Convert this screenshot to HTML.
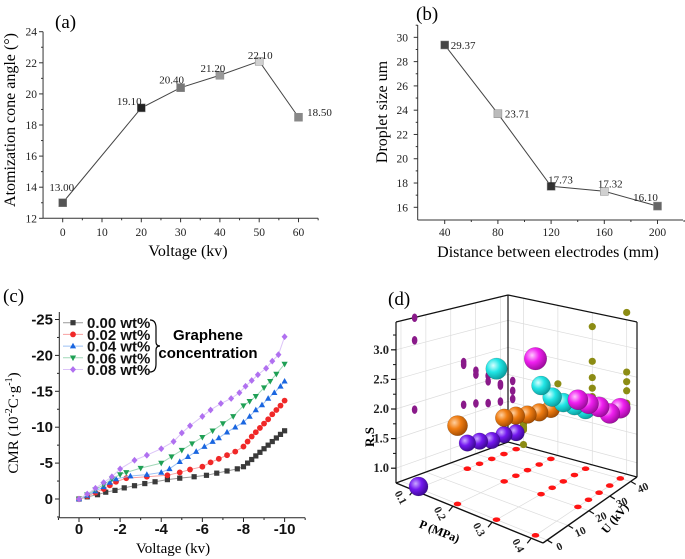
<!DOCTYPE html>
<html><head><meta charset="utf-8"><style>
html,body{margin:0;padding:0;background:#fff;}
svg{display:block;}
.serif{font-family:"Liberation Serif",serif;}
.sans{font-family:"Liberation Sans",sans-serif;}
</style></head><body>
<svg id="chart" width="685" height="559" viewBox="0 0 685 559" xmlns="http://www.w3.org/2000/svg">
<rect x="0" y="0" width="685" height="559" fill="#fff"/>
<defs>
<radialGradient id="gViolet" cx="35%" cy="35%" r="70%"><stop offset="0" stop-color="#c9a8ff"/><stop offset="0.45" stop-color="#7418f0"/><stop offset="1" stop-color="#3a0890"/></radialGradient>
<radialGradient id="gOrange" cx="35%" cy="35%" r="70%"><stop offset="0" stop-color="#ffd0a0"/><stop offset="0.45" stop-color="#f07d12"/><stop offset="1" stop-color="#a04a00"/></radialGradient>
<radialGradient id="gCyan" cx="35%" cy="35%" r="70%"><stop offset="0" stop-color="#d8ffff"/><stop offset="0.45" stop-color="#22e6e6"/><stop offset="1" stop-color="#0a9a9a"/></radialGradient>
<radialGradient id="gMagenta" cx="35%" cy="35%" r="70%"><stop offset="0" stop-color="#ffc8ff"/><stop offset="0.45" stop-color="#f020f0"/><stop offset="1" stop-color="#9a0a9a"/></radialGradient>
</defs>
<text x="55" y="28" class="serif" font-size="19">(a)</text>
<text transform="translate(15,120) rotate(-90)" text-anchor="middle" class="serif" font-size="16">Atomization cone angle (°)</text>
<text x="188" y="256" text-anchor="middle" class="serif" font-size="16">Voltage  (kv)</text>

<text x="416" y="20" class="serif" font-size="19">(b)</text>
<text transform="translate(387,112) rotate(-90)" text-anchor="middle" class="serif" font-size="16">Droplet size um</text>
<text x="548" y="257" text-anchor="middle" class="serif" font-size="16">Distance between electrodes  (mm)</text>

<text x="3" y="302" class="serif" font-size="19">(c)</text>
<text transform="translate(18,423) rotate(-90)" text-anchor="middle" class="serif" font-size="15">CMR (10<tspan font-size="10" dy="-6">-2</tspan><tspan dy="6">C·g</tspan><tspan font-size="10" dy="-6">-1</tspan><tspan dy="6">)</tspan></text>
<text x="173" y="553" text-anchor="middle" class="serif" font-size="15">Voltage (kv)</text>
<text x="208" y="340" text-anchor="middle" class="sans" font-weight="bold" font-size="15">Graphene</text>
<text x="208" y="358" text-anchor="middle" class="sans" font-weight="bold" font-size="15">concentration</text>
<path d="M150,320 Q156,320 156,328 L156,342 Q156,346 160,346 Q156,346 156,350 L156,364 Q156,372 150,372" fill="none" stroke="#000" stroke-width="1.2"/>

<text x="388" y="305" class="serif" font-size="19">(d)</text>
<text transform="translate(374,437) rotate(-90)" text-anchor="middle" class="serif" font-weight="bold" font-size="13">R.S</text>
<text transform="translate(438,535) rotate(22)" text-anchor="middle" class="serif" font-weight="bold" font-size="12">P (MPa)</text>
<text transform="translate(618,521) rotate(-50)" text-anchor="middle" class="serif" font-weight="bold" font-size="12">U (kV)</text>

<g id="layer"></g>
</svg>
<script>
// ---------- Panel (a) data ----------
const aVolt=[0,20,30,40,50,60];
const aAngle=[13.00,19.10,20.40,21.20,22.10,18.50];
const aValueLabels=['13.00','19.10','20.40','21.20','22.10','18.50'];
const aXTicks=[0,10,20,30,40,50,60];
const aYTicks=[12,14,16,18,20,22,24];
// ---------- Panel (b) data ----------
const bDist=[40,80,120,160,200];
const bSize=[29.37,23.71,17.73,17.32,16.10];
const bValueLabels=['29.37','23.71','17.73','17.32','16.10'];
const bXTicks=[40,80,120,160,200];
const bYTicks=[16,18,20,22,24,26,28,30];
// ---------- Panel (c) data ----------
const cSeriesNames=['0.00 wt%','0.02 wt%','0.04 wt%','0.06 wt%','0.08 wt%'];
const cX0=[0,-0.4,-0.9,-1.3,-1.75,-2.2,-2.7,-3.2,-3.7,-4.3,-4.9,-5.6,-6.2,-6.7,-7.2,-7.7,-8,-8.2,-8.4,-8.6,-8.8,-9,-9.2,-9.4,-9.6,-9.8,-10];
const cY0=[0,-0.3,-0.6,-0.95,-1.2,-1.55,-1.85,-2.15,-2.4,-2.7,-2.9,-3.1,-3.3,-3.6,-3.9,-4.2,-4.5,-5.0,-5.5,-6.0,-6.5,-7.0,-7.5,-8.0,-8.5,-9.0,-9.5];
const cX1=[0,-0.4,-0.8,-1.2,-1.5,-1.8,-2.3,-3.3,-4.3,-4.9,-5.4,-6,-6.4,-6.8,-7.2,-7.6,-8,-8.2,-8.4,-8.6,-8.8,-9,-9.2,-9.4,-9.6,-9.8,-10];
const cY1=[0,-0.4,-0.9,-1.4,-1.9,-2.4,-2.9,-3.1,-3.3,-3.7,-4.1,-4.5,-5.1,-5.6,-6.1,-6.6,-7.3,-8.0,-8.7,-9.3,-9.9,-10.5,-11.1,-11.8,-12.4,-13.0,-13.7];
const cX2=[0,-0.4,-0.8,-1.2,-1.5,-1.8,-2.5,-3.3,-4,-4.4,-4.9,-5.3,-5.7,-6.1,-6.5,-6.8,-7.2,-7.6,-8,-8.3,-8.6,-8.9,-9.2,-9.5,-9.8,-10];
const cY2=[0,-0.5,-1.1,-1.7,-2.3,-2.8,-3.2,-3.4,-3.7,-4.2,-5.2,-5.9,-6.6,-7.3,-8.0,-8.5,-9.3,-10,-10.7,-11.5,-12.4,-13.1,-14,-14.8,-15.7,-16.4];
const cX3=[0,-0.4,-0.8,-1.2,-1.6,-2,-2.3,-3,-4,-4.5,-5,-5.5,-6,-6.5,-7,-7.5,-8,-8.3,-8.6,-9,-9.3,-9.6,-10];
const cY3=[0,-0.6,-1.3,-2.0,-2.8,-3.4,-3.7,-4.3,-5.0,-5.9,-6.8,-7.7,-8.6,-9.5,-10.5,-11.5,-13,-13.6,-14.3,-15.5,-16.4,-17.4,-18.8];
const cX4=[0,-0.4,-0.8,-1.2,-1.6,-2,-2.7,-3.3,-4,-4.6,-5,-5.4,-6,-6.4,-6.9,-7.4,-7.8,-8.1,-8.4,-8.7,-9.1,-9.4,-9.7,-10];
const cY4=[0,-0.7,-1.5,-2.3,-3.1,-4.2,-5.4,-6.1,-7.0,-8.0,-9.2,-10.2,-11.5,-12.4,-13.3,-14.0,-14.8,-15.7,-16.5,-17.3,-18.2,-19.2,-20.1,-22.6];
const cXTicks=[0,-2,-4,-6,-8,-10];
const cYTicks=[0,-5,-10,-15,-20,-25];
// ---------- Panel (d) data ----------
const dP=[0.1,0.2,0.3,0.4];
const dU=[0,20,25,30,35,40];
const dRS0=[0.78,1.20,1.15,1.08,1.10,1.05];
const dRS1=[2.05,1.85,1.80,1.73,1.68,1.65];
const dRS2=[3.22,2.60,2.31,2.12,1.97,1.80];
const dRS3=[3.60,2.55,2.38,2.22,2.00,1.98];
const dPTicks=[0.1,0.2,0.3,0.4];
const dUTicks=[0,10,20,30,40];
const dRTicks=[1.0,1.5,2.0,2.5,3.0];
const dRTickLabels=['1.0','1.5','2.0','2.5','3.0'];

const NS='http://www.w3.org/2000/svg';
const layer=document.getElementById('layer');
function el(tag,attrs,parent){const e=document.createElementNS(NS,tag);for(const k in attrs)e.setAttribute(k,attrs[k]);(parent||layer).appendChild(e);return e;}
function nm(e,n){


return e;}
function txt(x,y,s,attrs){const t=el('text',Object.assign({x:x,y:y},attrs));t.textContent=s;return t;}

// ---------- Panel (a) ----------
const xa=v=>62.7+v*3.93;
const ya=v=>218.3-(v-12)*15.55;
(function(){
  const g=el('g',{});nm(g,'panel-a');
  let s=el('line',{x1:xa(-5),y1:ya(12),x2:xa(65),y2:ya(12),stroke:'#333','stroke-width':1},g);nm(s,'panel-a-x-axis');
  s=el('line',{x1:xa(-5),y1:ya(12),x2:xa(-5),y2:ya(24),stroke:'#333','stroke-width':1},g);nm(s,'panel-a-y-axis');
  aXTicks.forEach(v=>{let t=el('line',{x1:xa(v),y1:ya(12),x2:xa(v),y2:ya(12)+4,stroke:'#333'},g);nm(t,'panel-a-x-tick');
    let m=el('line',{x1:xa(v+5),y1:ya(12),x2:xa(v+5),y2:ya(12)+2,stroke:'#333'},g);nm(m,'panel-a-x-minor-tick');
    let l=txt(xa(v),236,String(v),{'text-anchor':'middle','font-size':11.5,class:'serif',fill:'#222'});g.appendChild(l);nm(l,'panel-a-x-tick-label');});
  aYTicks.forEach(v=>{let t=el('line',{x1:xa(-5)-4,y1:ya(v),x2:xa(-5),y2:ya(v),stroke:'#333'},g);nm(t,'panel-a-y-tick');
    if(v<24){let m=el('line',{x1:xa(-5)-2,y1:ya(v+1),x2:xa(-5),y2:ya(v+1),stroke:'#333'},g);nm(m,'panel-a-y-minor-tick');}
    let l=txt(37,ya(v)+4,String(v),{'text-anchor':'end','font-size':11.5,class:'serif',fill:'#222'});g.appendChild(l);nm(l,'panel-a-y-tick-label');});
  const pts=aVolt.map((v,i)=>xa(v)+','+ya(aAngle[i])).join(' ');
  const pl=el('polyline',{points:pts,fill:'none',stroke:'#444','stroke-width':1},g);nm(pl,'panel-a-line');
  const fills=['#555','#222','#777','#999','#d0d0d0','#888'];
  const ldx=[-1,-12,-9,-7,1,21], ldy=[-12,-3,-4,-3,-2,-1];
  aVolt.forEach((v,i)=>{const r=el('rect',{x:xa(v)-4,y:ya(aAngle[i])-4,width:8,height:8,fill:fills[i],stroke:'#888','stroke-width':0.5},g);nm(r,'panel-a-point');
    const l=txt(xa(v)+ldx[i],ya(aAngle[i])+ldy[i],aValueLabels[i],{'text-anchor':'middle','font-size':11,class:'serif',fill:'#222'});g.appendChild(l);nm(l,'panel-a-value-label');});
})();

// ---------- Panel (b) ----------
const xb=v=>444.7+(v-40)*1.33;
const yb=v=>207.3-(v-16)*12.14;
(function(){
  const g=el('g',{});nm(g,'panel-b');
  let s=el('line',{x1:417.7,y1:220,x2:683,y2:220,stroke:'#333'},g);nm(s,'panel-b-x-axis');
  s=el('line',{x1:417.7,y1:220,x2:417.7,y2:25,stroke:'#333'},g);nm(s,'panel-b-y-axis');
  bXTicks.forEach(v=>{let t=el('line',{x1:xb(v),y1:220,x2:xb(v),y2:224,stroke:'#333'},g);nm(t,'panel-b-x-tick');
    let m=el('line',{x1:xb(v+20),y1:220,x2:xb(v+20),y2:222,stroke:'#333'},g);nm(m,'panel-b-x-minor-tick');
    let l=txt(xb(v),236,String(v),{'text-anchor':'middle','font-size':11.5,class:'serif',fill:'#222'});g.appendChild(l);nm(l,'panel-b-x-tick-label');});
  bYTicks.forEach(v=>{let t=el('line',{x1:413.7,y1:yb(v),x2:417.7,y2:yb(v),stroke:'#333'},g);nm(t,'panel-b-y-tick');
    let m=el('line',{x1:415.7,y1:yb(v+1),x2:417.7,y2:yb(v+1),stroke:'#333'},g);nm(m,'panel-b-y-minor-tick');
    let l=txt(408,yb(v)+4,String(v),{'text-anchor':'end','font-size':11.5,class:'serif',fill:'#222'});g.appendChild(l);nm(l,'panel-b-y-tick-label');});
  const pts=bDist.map((v,i)=>xb(v)+','+yb(bSize[i])).join(' ');
  const pl=el('polyline',{points:pts,fill:'none',stroke:'#444','stroke-width':1},g);nm(pl,'panel-b-line');
  const fills=['#444','#bbb','#333','#d0d0d0','#666'];
  const ldx=[6,7,-3,6,-12], ldy=[4,4,-3,-4,-5], anc=['start','start','start','middle','middle'];
  bDist.forEach((v,i)=>{const r=el('rect',{x:xb(v)-4,y:yb(bSize[i])-4,width:8,height:8,fill:fills[i],stroke:'#888','stroke-width':0.5},g);nm(r,'panel-b-point');
    const l=txt(xb(v)+ldx[i],yb(bSize[i])+ldy[i],bValueLabels[i],{'text-anchor':anc[i],'font-size':11,class:'serif',fill:'#222'});g.appendChild(l);nm(l,'panel-b-value-label');});
})();

// ---------- Panel (c) ----------
const xc=v=>79-v*20.56;
const yc=v=>499+v*7.18;
function marker(g,shape,x,y,color){
  let m;
  if(shape==='sq') m=el('rect',{x:x-2.6,y:y-2.6,width:5.2,height:5.2,fill:color},g);
  else if(shape==='ci') m=el('circle',{cx:x,cy:y,r:2.9,fill:color},g);
  else if(shape==='tu') m=el('polygon',{points:`${x},${y-3.3} ${x+3.1},${y+2.3} ${x-3.1},${y+2.3}`,fill:color},g);
  else if(shape==='td') m=el('polygon',{points:`${x},${y+3.3} ${x+3.1},${y-2.3} ${x-3.1},${y-2.3}`,fill:color},g);
  else m=el('polygon',{points:`${x},${y-3.4} ${x+3},${y} ${x},${y+3.4} ${x-3},${y}`,fill:color},g);
  return m;
}
(function(){
  const g=el('g',{});nm(g,'panel-c');
  let s=el('line',{x1:59.3,y1:517.7,x2:305,y2:517.7,stroke:'#222'},g);nm(s,'panel-c-x-axis');
  s=el('line',{x1:59.3,y1:517.7,x2:59.3,y2:312,stroke:'#222'},g);nm(s,'panel-c-y-axis');
  cXTicks.forEach(v=>{let t=el('line',{x1:xc(v),y1:517.7,x2:xc(v),y2:522,stroke:'#222'},g);nm(t,'panel-c-x-tick');
    let m=el('line',{x1:xc(v-1),y1:517.7,x2:xc(v-1),y2:520,stroke:'#222'},g);nm(m,'panel-c-x-minor-tick');
    let l=txt(xc(v),534,String(v),{'text-anchor':'middle','font-size':15,'font-weight':'bold',class:'sans',fill:'#111'});g.appendChild(l);nm(l,'panel-c-x-tick-label');});
  let m0=el('line',{x1:xc(1),y1:517.7,x2:xc(1),y2:520,stroke:'#222'},g);nm(m0,'panel-c-x-minor-tick');
  cYTicks.forEach(v=>{let t=el('line',{x1:55,y1:yc(v),x2:59.3,y2:yc(v),stroke:'#222'},g);nm(t,'panel-c-y-tick');
    let m=el('line',{x1:57,y1:yc(v+2.5),x2:59.3,y2:yc(v+2.5),stroke:'#222'},g);nm(m,'panel-c-y-minor-tick');
    let l=txt(53,yc(v)+5,String(v),{'text-anchor':'end','font-size':15,'font-weight':'bold',class:'sans',fill:'#111'});g.appendChild(l);nm(l,'panel-c-y-tick-label');});
  const xs=[cX0,cX1,cX2,cX3,cX4], ys=[cY0,cY1,cY2,cY3,cY4];
  const cols=['#3a3a3a','#f02828','#1a66e0','#1fa055','#b070f0'];
  const lcols=['#999','#f8a0a0','#9cc0f4','#a0d8b8','#dcc4f8'];
  const shapes=['sq','ci','tu','td','di'];
  xs.forEach((X,k)=>{
    const sg=el('g',{},g);nm(sg,'panel-c-series-'+k);
    const pl=el('polyline',{points:X.map((v,i)=>xc(v)+','+yc(ys[k][i])).join(' '),fill:'none',stroke:lcols[k],'stroke-width':1},sg);nm(pl,'panel-c-series-line');
    X.forEach((v,i)=>{const m=marker(sg,shapes[k],xc(v),yc(ys[k][i]),cols[k]);nm(m,'panel-c-point');});
  });
  cSeriesNames.forEach((n,k)=>{
    const y=322.7+k*11.7;
    const lg=el('g',{},g);nm(lg,'legend-entry');
    const ln=el('line',{x1:63,y1:y,x2:83,y2:y,stroke:lcols[k]},lg);nm(ln,'legend-line');
    const mk=marker(lg,shapes[k],73,y,cols[k]);nm(mk,'legend-marker');
    const t=txt(87,y+5.5,n,{'font-size':15,'font-weight':'bold',class:'sans',fill:'#111'});lg.appendChild(t);nm(t,'legend-label');
  });
})();

// ---------- Panel (d) 3D ----------
const Pmin=0.055,Pmax=0.43,Umin=-2,Umax=43,Rmin=0.75,Rmax=3.47;
const CL=[396,483],CB=[508,442],CF=[543,543],CR=[637,477];
const HL=161,HB=147,HF=170,HR=155;
function proj(P,U,R){
  const p=(P-Pmin)/(Pmax-Pmin), u=(U-Umin)/(Umax-Umin);
  const a=[CL[0]+(CB[0]-CL[0])*u, CL[1]+(CB[1]-CL[1])*u];
  const b=[CF[0]+(CR[0]-CF[0])*u, CF[1]+(CR[1]-CF[1])*u];
  const x=a[0]+(b[0]-a[0])*p, y0=a[1]+(b[1]-a[1])*p;
  const h1=HL+(HB-HL)*u, h2=HF+(HR-HF)*u, H=h1+(h2-h1)*p;
  return [x, y0-(R-Rmin)*H/(Rmax-Rmin)];
}
(function(){
  const g=el('g',{});nm(g,'panel-d');
  const grid='#dcdcdc';
  function L(a,b,c,n,w){const l=el('line',{x1:a[0],y1:a[1],x2:b[0],y2:b[1],stroke:c,'stroke-width':w||0.7},g);nm(l,n);return l;}
  dUTicks.forEach(u=>{L(proj(Pmin,u,Rmin),proj(Pmin,u,Rmax),grid,'left-wall-grid-line');L(proj(Pmin,u,Rmin),proj(Pmax,u,Rmin),grid,'floor-grid-line');});
  dPTicks.forEach(p=>{L(proj(p,Umax,Rmin),proj(p,Umax,Rmax),grid,'back-wall-grid-line');L(proj(p,Umin,Rmin),proj(p,Umax,Rmin),grid,'floor-grid-line');});
  dRTicks.forEach(r=>{L(proj(Pmin,Umin,r),proj(Pmin,Umax,r),grid,'left-wall-grid-line');L(proj(Pmin,Umax,r),proj(Pmax,Umax,r),grid,'back-wall-grid-line');});
  const ec='#111';
  L(proj(Pmin,Umin,Rmin),proj(Pmin,Umin,Rmax),ec,'rs-axis-edge',1.2);
  L(proj(Pmin,Umax,Rmin),proj(Pmin,Umax,Rmax),ec,'back-edge',1.2);
  L(proj(Pmax,Umax,Rmin),proj(Pmax,Umax,Rmax),ec,'right-edge',1.2);
  L(proj(Pmin,Umin,Rmax),proj(Pmin,Umax,Rmax),ec,'top-left-edge',1.2);
  L(proj(Pmin,Umax,Rmax),proj(Pmax,Umax,Rmax),ec,'top-right-edge',1.2);
  L(proj(Pmin,Umin,Rmin),proj(Pmin,Umax,Rmin),ec,'floor-back-left-edge',1.2);
  L(proj(Pmin,Umax,Rmin),proj(Pmax,Umax,Rmin),ec,'floor-back-right-edge',1.2);
  L(proj(Pmin,Umin,Rmin),proj(Pmax,Umin,Rmin),ec,'p-axis-edge',1.4);
  L(proj(Pmax,Umin,Rmin),proj(Pmax,Umax,Rmin),ec,'u-axis-edge',1.4);
  dRTicks.forEach((r,i)=>{const a=proj(Pmin,Umin,r);L([a[0]-5,a[1]],a,ec,'rs-tick',1.2);
    const t=txt(a[0]-7,a[1]+4,dRTickLabels[i],{'text-anchor':'end','font-size':12.5,'font-weight':'bold',class:'serif',fill:'#222'});g.appendChild(t);nm(t,'rs-tick-label');
    const m=proj(Pmin,Umin,r+0.25);L([m[0]-3,m[1]],m,ec,'rs-minor-tick',1);});
  dPTicks.forEach(p=>{const a=proj(p,Umin,Rmin);L(a,[a[0]-4,a[1]+5],ec,'p-tick',1.2);
    const t=txt(0,0,String(p),{'text-anchor':'middle','font-size':11,'font-weight':'bold',class:'serif',fill:'#222',transform:`translate(${a[0]-16},${a[1]+9}) rotate(62)`});g.appendChild(t);nm(t,'p-tick-label');});
  dUTicks.forEach(u=>{const a=proj(Pmax,u,Rmin);L(a,[a[0]+5,a[1]+3],ec,'u-tick',1.2);
    const t=txt(a[0]+12,a[1]+10,String(u),{'text-anchor':'middle','font-size':11,'font-weight':'bold',class:'serif',fill:'#222',transform:`rotate(-25 ${a[0]+12} ${a[1]+6})`});g.appendChild(t);nm(t,'u-tick-label');});
  const series=[dRS0,dRS1,dRS2,dRS3];
  series.forEach((S,k)=>{const P=dP[k];
    S.forEach((r,i)=>{const U=dU[i];
      const w=proj(Pmin+0.035,U,r);const e1=el('ellipse',{cx:w[0],cy:w[1],rx:2.8,ry:4.3,fill:'#8a1a8a'},g);nm(e1,'left-wall-projection-dot');
      const b=proj(P,Umax,r);const e2=el('circle',{cx:b[0],cy:b[1],r:3.6,fill:'#8c8c14'},g);nm(e2,'back-wall-projection-dot');
      const f=proj(P,U,Rmin);const e3=el('ellipse',{cx:f[0],cy:f[1],rx:3.8,ry:2.3,fill:'#ff1414'},g);nm(e3,'floor-projection-dot');
    });});
  const grads=['url(#gViolet)','url(#gOrange)','url(#gCyan)','url(#gMagenta)'];
  const names=['sphere-p01','sphere-p02','sphere-p03','sphere-p04'];
  const balls=[];
  series.forEach((S,k)=>S.forEach((r,i)=>balls.push({k:k,P:dP[k],U:dU[i],R:r,first:i===0})));
  balls.sort((a,b)=>((a.P-Pmin)/(Pmax-Pmin)-(a.U-Umin)/(Umax-Umin))-((b.P-Pmin)/(Pmax-Pmin)-(b.U-Umin)/(Umax-Umin)));
  balls.forEach(o=>{const c=proj(o.P,o.U,o.R);const rad=(o.first?9.5:8.3)+o.k*0.6;
    const s=el('circle',{cx:c[0],cy:c[1],r:rad,fill:grads[o.k],stroke:'rgba(0,0,0,0.25)','stroke-width':0.5},g);nm(s,names[o.k]);});
})();
</script>
</body></html>
